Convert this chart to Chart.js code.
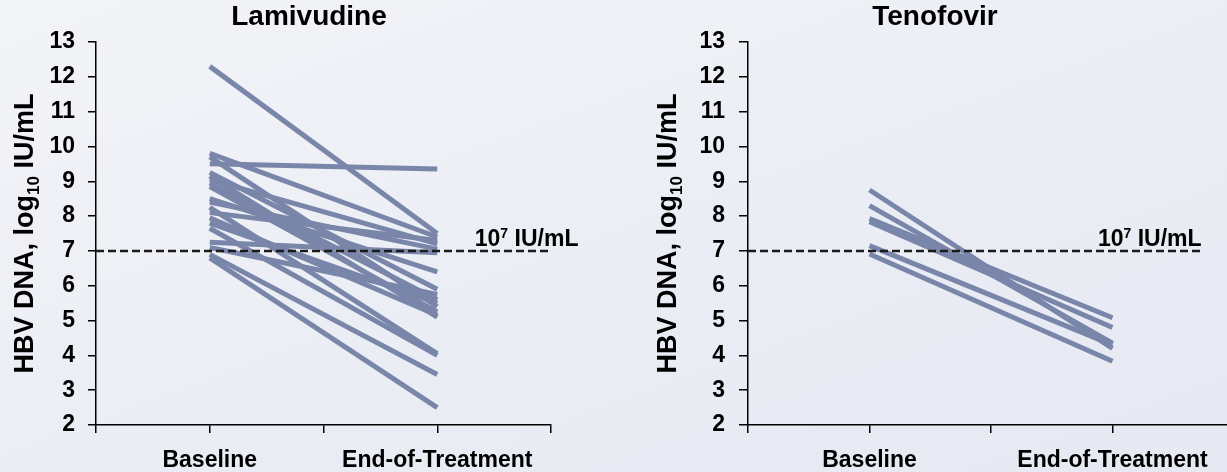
<!DOCTYPE html>
<html lang="en">
<head>
<meta charset="UTF-8">
<title>HBV DNA – Lamivudine / Tenofovir</title>
<script src="https://cdn.jsdelivr.net/npm/chart.js"></script>
<style>
  html, body { margin: 0; padding: 0; overflow: hidden; }
  body {
    width: 1227px; height: 472px; position: relative;
    background: linear-gradient(160deg, #f3f4f8 0%, #eaedf4 55%, #e6e9f2 100%);
  }
  .box { position: absolute; top: 0; height: 472px; }
  #left { left: 0; width: 620px; }
  #right { left: 620px; width: 640px; }
</style>
</head>
<body>
<div class="box" id="left"><canvas id="lamChart" width="620" height="472"></canvas></div>
<div class="box" id="right"><canvas id="tenChart" width="640" height="472"></canvas></div>

<script>
const tickLabels = ['', 'Baseline', '', 'End-of-Treatment', ''];
const yTicks = [2, 13];

// Lamivudine patients (log10 IU/mL)
const lamBaseline = [12.3, 9.5, 9.8, 9.7, 9.25, 9.15, 9.05, 8.95, 8.85, 8.5, 8.4, 8.25, 8.1, 7.95, 7.8, 7.65, 7.25, 7.1, 6.9, 6.8];
const lamEnd      = [7.5, 9.35, 7.4, 5.4, 5.9, 5.1, 7.2, 5.6, 5.25, 6.4, 7.05, 4.05, 7.3, 5.15, 5.5, 4.0, 6.95, 5.75, 3.45, 2.5];

// Tenofovir patients
const tenBaseline = [8.75, 8.3, 7.93, 7.84, 7.15, 6.91];
const tenEnd      = [4.2, 4.35, 5.08, 4.8, 4.3, 3.83];

const threshold = 7;

const FONT = '"Liberation Sans", Arial, sans-serif';
const lineColor = '#7986a9';

// y title with subscript, and the 10^7 label over the dashed line
const annotations = {
  id: 'annotations',
  afterDraw(chart, args, o) {
    const { ctx, chartArea, scales } = chart;
    ctx.save();
    ctx.fillStyle = '#000';
    ctx.textBaseline = 'alphabetic';

    const parts = [
      ['HBV DNA, log', 'bold 27px ' + FONT, 0],
      ['10', 'bold 17px ' + FONT, 6],
      [' IU/mL', 'bold 27px ' + FONT, 0]
    ];
    let total = 0;
    parts.forEach(p => { ctx.font = p[1]; total += ctx.measureText(p[0]).width; });
    ctx.translate(chartArea.left - o.titleGap, (chartArea.top + chartArea.bottom) / 2);
    ctx.rotate(-Math.PI / 2);
    let x = -total / 2;
    parts.forEach(p => {
      ctx.font = p[1];
      ctx.fillText(p[0], x, p[2]);
      x += ctx.measureText(p[0]).width;
    });
    ctx.restore();

    ctx.save();
    ctx.fillStyle = '#000';
    ctx.textBaseline = 'alphabetic';
    const ly = scales.y.getPixelForValue(threshold) - 5;
    let lx = scales.x.getPixelForValue(o.labelAt);
    const lab = [
      ['10', 'bold 23px ' + FONT, 0],
      ['7', 'bold 14px ' + FONT, -8],
      [' IU/mL', 'bold 23px ' + FONT, 0]
    ];
    lab.forEach(p => {
      ctx.font = p[1];
      ctx.fillText(p[0], lx, ly + p[2]);
      lx += ctx.measureText(p[0]).width;
    });
    ctx.restore();
  }
};

function drawChart(id, title, base, end, o) {
  const bx = tickLabels.indexOf('Baseline');
  const ex = tickLabels.indexOf('End-of-Treatment');

  const datasets = [{
    data: [{ x: 0, y: threshold }, { x: o.dashEnd, y: threshold }],
    borderColor: '#1a1a1a',
    borderWidth: 2.5,
    borderDash: [8, 4],
    pointRadius: 0
  }];
  base.forEach((b, i) => {
    datasets.push({
      data: [{ x: bx, y: b }, { x: ex, y: end[i] }],
      borderColor: lineColor,
      borderWidth: 5,
      pointRadius: 0
    });
  });

  const scales = {
    x: {
      type: 'linear',
      min: 0,
      max: tickLabels.length - 1,
      afterFit: s => { s.height = 47; },
      border: { color: '#000', width: 1.5 },
      grid: { drawOnChartArea: false, color: '#000', lineWidth: 1.5, tickLength: 8 },
      ticks: {
        stepSize: 1,
        autoSkip: false,
        maxRotation: 0,
        padding: 14,
        color: '#000',
        font: { family: FONT, size: 23, weight: 'bold' },
        callback: v => tickLabels[v]
      }
    },
    y: {
      min: yTicks[0],
      max: yTicks[1],
      afterFit: s => { s.width = o.yWidth; },
      border: { color: '#000', width: 1.5 },
      grid: { drawOnChartArea: false, color: '#000', lineWidth: 1.5, tickLength: o.tickLen },
      ticks: {
        stepSize: 1,
        padding: o.tickPad,
        color: '#000',
        font: { family: FONT, size: 23, weight: 'bold' }
      }
    }
  };
  if (o.rightGap) {
    // empty space on the right so the title sits where it does in the original
    scales.yGap = {
      position: 'right',
      min: yTicks[0],
      max: yTicks[1],
      afterFit: s => { s.width = o.rightGap; },
      border: { display: false },
      grid: { display: false },
      ticks: { display: false }
    };
  }

  new Chart(document.getElementById(id), {
    type: 'line',
    data: { datasets },
    options: {
      responsive: false,
      animation: false,
      layout: { padding: { left: o.padLeft, right: o.padRight, top: 0, bottom: 0 } },
      plugins: {
        legend: { display: false },
        tooltip: { enabled: false },
        title: {
          display: true,
          text: title,
          color: '#000',
          font: { family: FONT, size: 28, weight: 'bold' },
          padding: { top: 0, bottom: 8.4 }
        },
        annotations: { titleGap: o.titleGap, labelAt: o.labelAt }
      },
      scales
    },
    plugins: [annotations]
  });
}

drawChart('lamChart', 'Lamivudine', lamBaseline, lamEnd,
  { padLeft: 0, padRight: 2, yWidth: 96, rightGap: 67, tickLen: 8, tickPad: 13, titleGap: 63, dashEnd: 4, labelAt: 3.33 });
drawChart('tenChart', 'Tenofovir', tenBaseline, tenEnd,
  { padLeft: 16, padRight: 26, yWidth: 112, tickLen: 9, tickPad: 14, titleGap: 72, dashEnd: 3.72, labelAt: 2.88 });
</script>
</body>
</html>
